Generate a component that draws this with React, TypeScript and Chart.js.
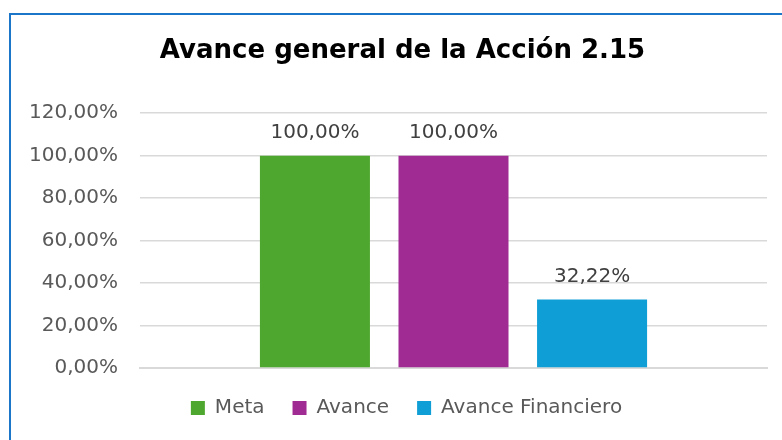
import React, { useEffect, useRef } from "react";
import { Chart, registerables } from "chart.js";

Chart.register(...registerables);

const categories = [""];
const seriesNames = ["Meta", "Avance", "Avance Financiero"];
const metaValues = [100];
const avanceValues = [100];
const financieroValues = [32.22];
const seriesColors = ["#4EA72E", "#A02B93", "#0F9ED5"];
const yTicks = [0, 20, 40, 60, 80, 100, 120];
const titleText = "Avance general de la Acción 2.15";

const fmt = (v: number) => v.toFixed(2).replace(".", ",") + "%";
const FONT = "'DejaVu Sans'";

const shiftPlugin = {
  id: "shiftBlocks",
  afterLayout(chart: any) {
    const t = chart.titleBlock;
    if (t) {
      t.left += 9;
      t.right += 9;
    }
    const l = chart.legend;
    if (l) {
      l.top -= 6;
      l.bottom -= 6;
      l.left += 13;
      l.right += 13;
    }
  },
};

const labelPlugin = {
  id: "barLabels",
  afterDatasetsDraw(chart: any) {
    const ctx = chart.ctx;
    ctx.save();
    ctx.font = "20px " + FONT;
    ctx.fillStyle = "#404040";
    ctx.textAlign = "center";
    ctx.textBaseline = "alphabetic";
    chart.data.datasets.forEach((ds: any, i: number) => {
      const meta = chart.getDatasetMeta(i);
      meta.data.forEach((bar: any, j: number) => {
        ctx.fillText(fmt(ds.data[j]), bar.x, bar.y - 18);
      });
    });
    ctx.restore();
  },
};

export default function App() {
  const ref = useRef<HTMLCanvasElement>(null);
  useEffect(() => {
    if (!ref.current) return;
    const allValues = [metaValues, avanceValues, financieroValues];
    const chart = new Chart(ref.current, {
      type: "bar",
      data: {
        labels: categories,
        datasets: seriesNames.map((name, i) => ({
          label: name,
          data: allValues[i],
          backgroundColor: seriesColors[i],
          borderWidth: 0,
          categoryPercentage: 0.663,
          barPercentage: 0.794,
        })),
      },
      options: {
        animation: false,
        responsive: false,
        layout: { padding: { left: 20, right: 15, top: 36, bottom: 6 } },
        plugins: {
          title: {
            display: true,
            text: titleText,
            color: "#000000",
            font: { family: FONT, weight: "bold", size: 26 },
            padding: { top: 0, bottom: 46 },
          },
          legend: {
            position: "bottom",
            labels: {
              boxWidth: 14,
              boxHeight: 14,
              padding: 28,
              color: "#595959",
              font: { family: FONT, size: 20 },
            },
          },
          tooltip: { enabled: false },
        },
        scales: {
          x: {
            grid: { display: false },
            border: { display: true, color: "#D9D9D9", width: 2 },
            ticks: { display: false },
          },
          y: {
            min: 0,
            max: 120,
            afterFit: (axis: any) => {
              axis.width = 120;
            },
            afterBuildTicks: (axis: any) => {
              axis.ticks = yTicks.map((v) => ({ value: v }));
            },
            grid: { color: "#D9D9D9", lineWidth: 1.5, drawTicks: false },
            border: { display: false },
            ticks: {
              padding: 22,
              color: "#595959",
              font: { family: FONT, size: 20 },
              callback: (v: any) => fmt(Number(v)),
            },
          },
        },
      },
      plugins: [shiftPlugin, labelPlugin],
    });
    return () => chart.destroy();
  }, []);

  return (
    <div style={{ position: "fixed", left: 0, top: 0, width: 782, height: 440, overflow: "hidden", background: "#fff" }}>
      <div
        style={{
          position: "absolute",
          left: 9,
          top: 13,
          width: 800,
          height: 500,
          border: "2px solid #1B75C8",
          boxSizing: "border-box",
        }}
      />
      <canvas ref={ref} width={782} height={440} style={{ position: "absolute", left: 0, top: 0 }} />
    </div>
  );
}
